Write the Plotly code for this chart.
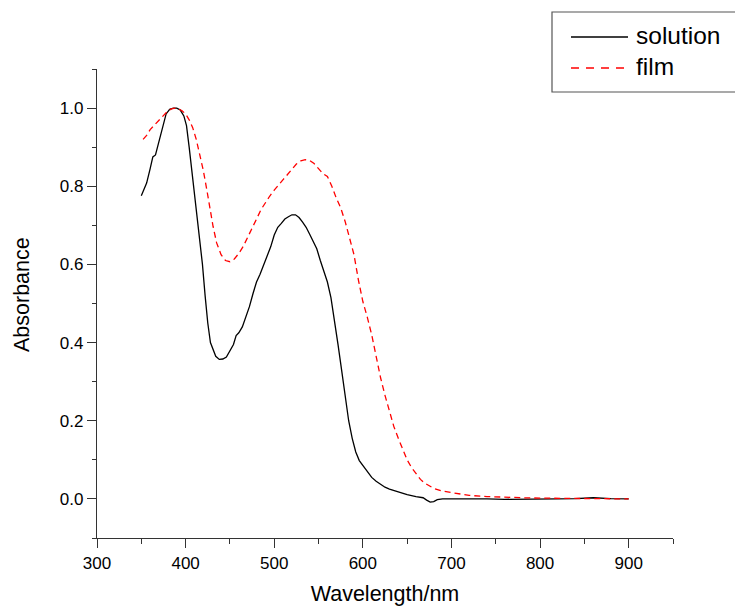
import plotly.graph_objects as go

# ---- data ----
sol_wl = [350, 353, 356, 360, 363, 366, 369, 372, 375, 378, 382, 386, 390, 394, 398, 401, 404, 407,
          410, 413, 416, 419, 422, 425, 428, 431, 434, 438, 442, 446, 450, 454, 457, 460, 464, 468,
          472, 476, 480, 484, 488, 492, 496, 500, 504, 508, 512, 516, 520, 524, 528, 532, 536, 540,
          544, 548, 552, 556, 560, 564, 568, 572, 576, 580, 584, 588, 592, 596, 600, 605, 610, 615,
          620, 625, 630, 640, 650, 660, 668, 672, 676, 680, 684, 690, 700, 720, 740, 760, 780, 800,
          820, 840, 860, 880, 900]
sol_abs = [0.776, 0.79, 0.808, 0.845, 0.875, 0.88, 0.905, 0.93, 0.96, 0.985, 0.997, 1.0, 1.0, 0.995,
           0.98, 0.955, 0.90, 0.84, 0.78, 0.72, 0.66, 0.60, 0.52, 0.45, 0.40, 0.38, 0.365, 0.357,
           0.358, 0.363, 0.378, 0.395, 0.418, 0.425, 0.44, 0.465, 0.492, 0.525, 0.555, 0.575, 0.598,
           0.62, 0.645, 0.675, 0.695, 0.705, 0.716, 0.722, 0.727, 0.727, 0.72, 0.708, 0.695, 0.677,
           0.66, 0.64, 0.61, 0.585, 0.555, 0.515, 0.46, 0.395, 0.33, 0.265, 0.2, 0.155, 0.12, 0.098,
           0.085, 0.068, 0.055, 0.045, 0.037, 0.03, 0.025, 0.017, 0.011, 0.006, 0.003, -0.003, -0.008,
           -0.007, -0.002, 0.0, 0.0, 0.001, 0.0, -0.001, -0.001, -0.001, 0.0, 0.001, 0.003, 0.001, 0.0]

film_wl = [352, 356, 360, 364, 368, 372, 376, 380, 384, 388, 392, 396, 400, 404, 408, 412, 416, 420,
           424, 427, 431, 435, 440, 445, 450, 455, 460, 465, 470, 475, 480, 485, 490, 495, 500, 505,
           510, 515, 520, 525, 530, 535, 540, 545, 550, 555, 560, 565, 570, 575, 580, 585, 590, 595,
           600, 605, 610, 615, 620, 625, 630, 635, 640, 645, 650, 655, 660, 665, 670, 675, 680, 690,
           700, 710, 720, 740, 760, 780, 800, 850, 900]
film_abs = [0.92, 0.93, 0.945, 0.955, 0.965, 0.975, 0.985, 0.993, 0.998, 1.0, 0.998, 0.993, 0.985,
            0.97, 0.95, 0.92, 0.88, 0.84, 0.79, 0.748, 0.697, 0.655, 0.625, 0.61, 0.607, 0.614, 0.628,
            0.646, 0.668, 0.692, 0.716, 0.74, 0.758, 0.775, 0.79, 0.805, 0.817, 0.83, 0.845, 0.857,
            0.865, 0.868, 0.866, 0.858, 0.845, 0.832, 0.825, 0.80, 0.77, 0.745, 0.71, 0.67, 0.625,
            0.56, 0.505, 0.465, 0.42, 0.365, 0.31, 0.265, 0.225, 0.185, 0.155, 0.125, 0.1, 0.08,
            0.065, 0.05, 0.04, 0.033, 0.027, 0.02, 0.016, 0.012, 0.009, 0.006, 0.004, 0.003, 0.002,
            0.001, 0.0]

series_names = ["solution", "film"]
x_title = "Wavelength/nm"
y_title = "Absorbance"

W, H = 735, 606
L, R, T, B = 97, 62, 69, 68
PW, PH = W - L - R, H - T - B

def px(x):
    return (x - L) / PW

def py(y):
    return (H - B - y) / PH

FONT = "Liberation Sans, Arial, sans-serif"

fig = go.Figure()
fig.add_trace(go.Scatter(x=sol_wl, y=sol_abs, mode="lines", name=series_names[0],
                         line=dict(color="black", width=1.3), showlegend=False))
fig.add_trace(go.Scatter(x=film_wl, y=film_abs, mode="lines", name=series_names[1],
                         line=dict(color="red", width=1.3, dash="6px,4px"), showlegend=False))

# manual legend
shapes = [
    dict(type="rect", xref="paper", yref="paper", x0=px(552), x1=px(740), y0=py(92), y1=py(12),
         line=dict(color="#555", width=1.2), fillcolor="white", layer="above"),
    dict(type="line", xref="paper", yref="paper", x0=px(571), x1=px(628), y0=py(37), y1=py(37),
         line=dict(color="black", width=1.3)),
    dict(type="line", xref="paper", yref="paper", x0=px(571), x1=px(628), y0=py(68), y1=py(68),
         line=dict(color="red", width=1.3, dash="8px,7px")),
]
annotations = [
    dict(text=series_names[0], xref="paper", yref="paper", x=px(634), y=py(36), xanchor="left",
         yanchor="middle", showarrow=False, font=dict(family=FONT, size=24.5, color="black")),
    dict(text=series_names[1], xref="paper", yref="paper", x=px(634), y=py(67), xanchor="left",
         yanchor="middle", showarrow=False, font=dict(family=FONT, size=24.5, color="black")),
    dict(text=y_title, xref="paper", yref="paper", x=px(22), y=py(295), xanchor="center",
         yanchor="middle", textangle=-90, showarrow=False,
         font=dict(family=FONT, size=21.5, color="black")),
]

axis_common = dict(showline=True, linecolor="#333", linewidth=1.3, showgrid=False, zeroline=False,
                   ticks="outside", ticklen=9, tickwidth=1.3, tickcolor="#333", automargin=False,
                   tickfont=dict(family=FONT, size=17, color="black"))

fig.update_layout(
    width=W, height=H, margin=dict(l=L, r=R, t=T, b=B),
    paper_bgcolor="white", plot_bgcolor="white",
    shapes=shapes, annotations=annotations,
    xaxis=dict(range=[300, 950], tickmode="array", tickvals=[300, 400, 500, 600, 700, 800, 900],
               minor=dict(dtick=50, tick0=0, ticks="outside", ticklen=5, tickcolor="#333", tickwidth=1.3),
               title=dict(text=x_title, font=dict(family=FONT, size=21.5, color="black"), standoff=16),
               **axis_common),
    yaxis=dict(range=[-0.1, 1.1], tickmode="array", tickvals=[0.0, 0.2, 0.4, 0.6, 0.8, 1.0],
               ticktext=["0.0", "0.2", "0.4", "0.6", "0.8", "1.0"],
               minor=dict(dtick=0.1, tick0=0, ticks="outside", ticklen=4, tickcolor="#333", tickwidth=1.3),
               **axis_common),
)

fig.write_html("out.html")
